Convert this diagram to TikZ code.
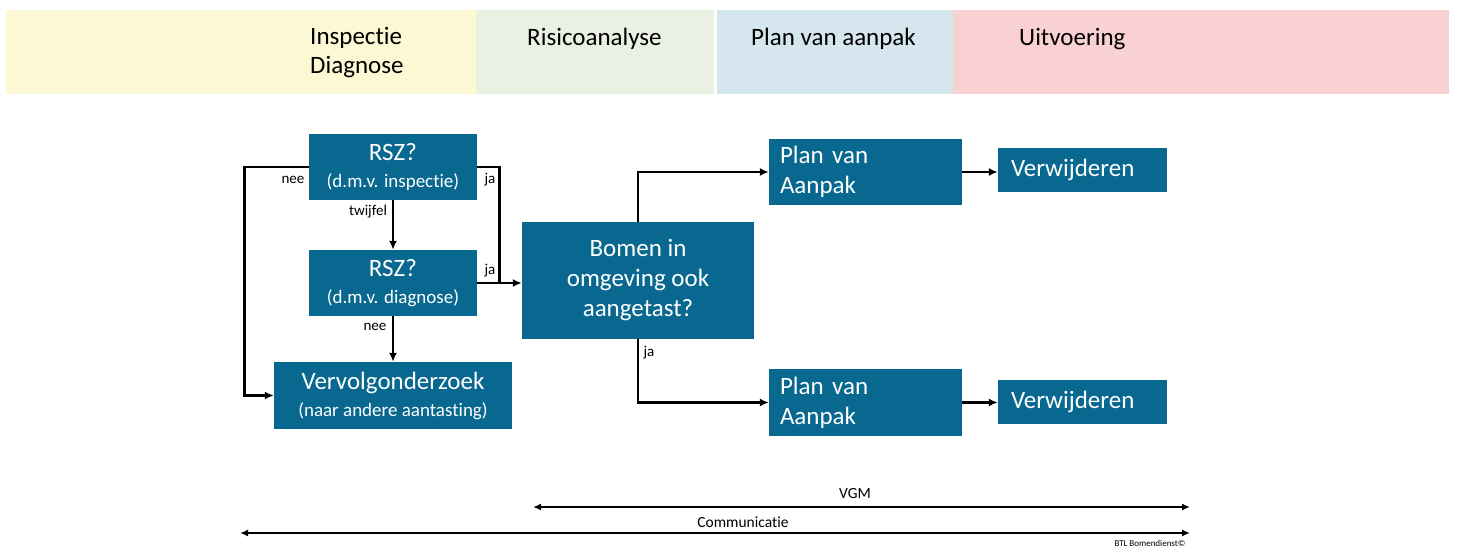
\documentclass[tikz,border=0pt]{standalone}
\usepackage{fontspec}
\setmainfont{Carlito}[Ligatures={NoCommon,NoContextual}]
\usetikzlibrary{arrows.meta}
\definecolor{boxblue}{RGB}{8,104,143}
\definecolor{bandyellow}{RGB}{251,248,211}
\definecolor{bandgreen}{RGB}{234,241,226}
\definecolor{bandblue}{RGB}{213,230,238}
\definecolor{bandpink}{RGB}{249,209,211}
\begin{document}
\begin{tikzpicture}[x=1pt, y=-1pt,
    box/.style = {fill=boxblue, text=white, inner sep=0pt, align=center, font=\fontsize{25}{30}\selectfont},
    fase/.style = {anchor=west, inner sep=0pt, font=\fontsize{25}{29}\selectfont},
    lbl/.style = {inner sep=0pt, font=\fontsize{15}{17}\selectfont},
    arr/.style = {line width=2.8pt, -{Latex[length=9pt,width=8pt]}},
    twoway/.style = {line width=2.4pt, {Latex[length=8pt,width=7pt]}-{Latex[length=8pt,width=7pt]}}]
    \useasboundingbox (0,0) rectangle (1457,549);

    \fill[bandyellow] (6,10) rectangle (476,94);
    \fill[bandgreen] (476,10) rectangle (714,94);
    \fill[bandblue] (717,10) rectangle (953,94);
    \fill[bandpink] (953,10) rectangle (1449,94);
    \node[fase, align=left] (fase1) at (310,53) {Inspectie\\Diagnose};
    \node[fase] (fase2) at (527,39) {Risicoanalyse};
    \node[fase] (fase3) at (751,39) {Plan van aanpak};
    \node[fase] (fase4) at (1019,39) {Uitvoering};

    \node[box, minimum width=168pt, minimum height=66pt] (rsz1) at (393,167) {RSZ?\\[-3pt]{\fontsize{19}{22}\selectfont (d.m.v. inspectie)}};
    \node[box, minimum width=168pt, minimum height=66pt] (rsz2) at (393,283) {RSZ?\\[-3pt]{\fontsize{19}{22}\selectfont (d.m.v. diagnose)}};
    \node[box, minimum width=238pt, minimum height=67pt] (verv) at (393,395.5) {Vervolgonderzoek\\[-3pt]{\fontsize{19}{22}\selectfont (naar andere aantasting)}};
    \node[box, minimum width=232pt, minimum height=117pt] (bomen) at (638,280.5) {Bomen in\\omgeving ook\\aangetast?};
    \node[box, minimum height=66pt, text width=171pt, inner xsep=11pt, align=left] (plan1) at (865.5,172) {Plan van\\Aanpak};
    \node[box, minimum height=44pt, text width=143pt, inner xsep=13pt, align=left] (verw1) at (1082.5,170) {Verwijderen};
    \node[box, minimum height=67pt, text width=171pt, inner xsep=11pt, align=left] (plan2) at (865.5,402.5) {Plan van\\Aanpak};
    \node[box, minimum height=44pt, text width=143pt, inner xsep=13pt, align=left] (verw2) at (1082.5,402) {Verwijderen};

    \coordinate (join) at (499.5,283);
    \draw[arr] (rsz1.west) -- ++(-64,0) |- (verv.west);
    \draw[arr] (rsz1) -- (rsz2);
    \draw[arr, -] (rsz1.east) -| (join);
    \draw[arr] (rsz2.east) -- (rsz2.east -| bomen.west);
    \draw[arr] (rsz2) -- (verv);
    \draw[arr] (bomen.north) |- (plan1.west);
    \draw[arr] (bomen.south) |- (plan2.west);
    \draw[arr] (plan1.east) -- (plan1.east -| verw1.west);
    \draw[arr] (plan2.east) -- (plan2.east -| verw2.west);

    \node[lbl] (nee1) at (293,180) {nee};
    \node[lbl] (twijfel) at (368,212) {twijfel};
    \node[lbl] (ja1) at (490,180) {ja};
    \node[lbl] (ja2) at (490,271) {ja};
    \node[lbl] (nee2) at (375,327) {nee};
    \node[lbl] (ja3) at (649,353) {ja};

    \node[lbl, font=\fontsize{15.5}{17}\selectfont] (vgm) at (855,494) {VGM};
    \node[lbl, font=\fontsize{15.5}{17}\selectfont] (comm) at (743,522) {Communicatie};
    \coordinate (vgmL) at (533,507);
    \coordinate (vgmR) at (1190,507);
    \coordinate (commL) at (240,533);
    \coordinate (commR) at (1190,533);
    \draw[twoway] (vgmL) -- (vgmR);
    \draw[twoway] (commL) -- (commR);
    \node[lbl, font=\fontsize{9}{10}\selectfont] (btl) at (1150,543) {BTL Bomendienst©};
\end{tikzpicture}
\end{document}
